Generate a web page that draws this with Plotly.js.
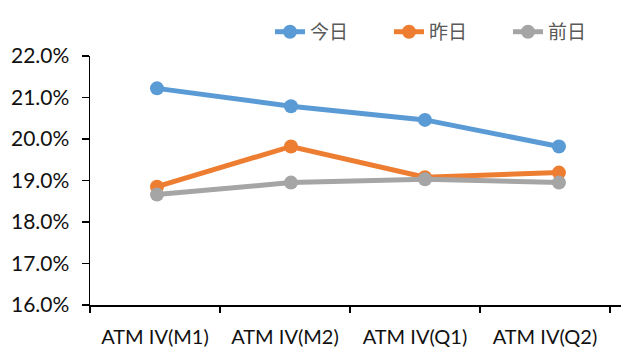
<!DOCTYPE html>
<html>
<head>
<meta charset="utf-8">
<script src="https://cdn.plot.ly/plotly-3.0.1.min.js"></script>
<style>html,body{margin:0;padding:0;background:#fff;}#chart{width:621px;height:348px;}</style>
</head>
<body>
<div id="chart"></div>
<script>
var categories = ['ATM IV(M1)', 'ATM IV(M2)', 'ATM IV(Q1)', 'ATM IV(Q2)'];
var seriesNames = ['今日', '昨日', '前日'];
var today = [0.2122, 0.2079, 0.2046, 0.1982];
var yesterday = [0.1885, 0.1982, 0.1908, 0.1919];
var dayBefore = [0.1866, 0.1895, 0.1903, 0.1895];
var colors = ['#5B9BD5', '#ED7D31', '#A5A5A5'];
var yTickVals = [0.16, 0.17, 0.18, 0.19, 0.20, 0.21, 0.22];

var seriesValues = [today, yesterday, dayBefore];
var traces = seriesValues.map(function (vals, i) {
  return {
    type: 'scatter', mode: 'lines+markers',
    x: categories, y: vals, name: seriesNames[i],
    xaxis: 'x', yaxis: 'y',
    line: {color: colors[i], width: 5},
    marker: {color: colors[i], size: 14},
    hoverinfo: 'skip'
  };
});
// invisible trace that carries the category labels axis
traces.push({
  type: 'scatter', mode: 'markers', x: categories, y: today,
  xaxis: 'x2', yaxis: 'y', showlegend: false, hoverinfo: 'skip',
  marker: {opacity: 0}
});

var font = {family: 'Lato, "Liberation Sans", sans-serif', size: 20, color: '#111'};
var yfont = {family: 'Lato, "Liberation Sans", sans-serif', size: 21, color: '#111'};

var layout = {
  width: 621, height: 348,
  margin: {l: 90, r: 0, t: 56, b: 43},
  paper_bgcolor: '#fff', plot_bgcolor: '#fff',
  font: font,
  showlegend: true,
  legend: {
    orientation: 'h', xref: 'container', yref: 'container',
    x: 0.4348, y: 0.963, xanchor: 'left', yanchor: 'top',
    font: {family: '"Noto Sans CJK SC", sans-serif', size: 19, color: '#595959'},
    entrywidth: 74, entrywidthmode: 'pixels',
    bgcolor: 'rgba(0,0,0,0)'
  },
  xaxis: {
    type: 'category', range: [-0.5, 3.463],
    showticklabels: false, ticks: '', showgrid: false, zeroline: false,
    showline: false, fixedrange: true
  },
  xaxis2: {
    type: 'category', overlaying: 'x', side: 'bottom', anchor: 'y',
    categoryarray: categories, categoryorder: 'array',
    range: [-0.5, 3.585],
    showgrid: false, zeroline: false,
    showline: true, linecolor: '#000', linewidth: 1.5,
    ticks: 'outside', tickson: 'boundaries', ticklen: 6, tickwidth: 1.5, tickcolor: '#000',
    ticklabelstandoff: 13,
    tickfont: font, fixedrange: true
  },
  yaxis: {
    range: [0.16, 0.22], tickvals: yTickVals, tickformat: '.1%',
    showgrid: false, zeroline: false,
    showline: true, linecolor: '#000', linewidth: 1.5,
    ticks: 'outside', ticklen: 7, tickwidth: 1.5, tickcolor: '#000',
    ticklabelstandoff: 8,
    tickfont: yfont, fixedrange: true
  }
};

Plotly.newPlot('chart', traces, layout, {displayModeBar: false, staticPlot: true});
</script>
</body>
</html>
